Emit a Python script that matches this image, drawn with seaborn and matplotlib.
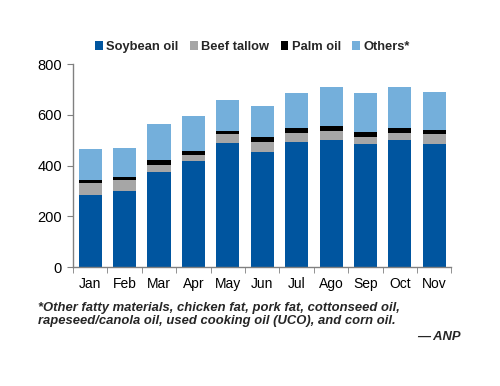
import numpy as np
import pandas as pd
import matplotlib
matplotlib.use('Agg')
import matplotlib.pyplot as plt
from matplotlib.patches import Patch
import seaborn as sns

months = ['Jan', 'Feb', 'Mar', 'Apr', 'May', 'Jun', 'Jul', 'Ago', 'Sep', 'Oct', 'Nov']
soybean = [283, 299, 373, 417, 488, 452, 493, 501, 484, 500, 485]
beef_tallow = [47, 46, 30, 24, 38, 42, 37, 37, 29, 30, 38]
palm_oil = [15, 9, 20, 16, 10, 17, 18, 18, 19, 20, 16]
others = [119, 114, 141, 137, 123, 124, 140, 153, 153, 158, 150]

series = ['Soybean oil', 'Beef tallow', 'Palm oil', 'Others*']
colors = ['#00559f', '#a6a6a6', '#000000', '#74afdb']

df = pd.DataFrame({'month': months, 'Soybean oil': soybean, 'Beef tallow': beef_tallow,
                   'Palm oil': palm_oil, 'Others*': others})
# cumulative tops, drawn from the tallest down so they stack visually
cum = df[series].cumsum(axis=1)
cum['month'] = months

sns.set_style('white')
plt.rcParams['font.family'] = ['Liberation Sans', 'DejaVu Sans']

fig = plt.figure(figsize=(5, 3.86), dpi=100)
ax = fig.add_axes([0.146, 0.308, 0.757, 0.526])

for name, col in reversed(list(zip(series, colors))):
    sns.barplot(data=cum, x='month', y=name, color=col, width=0.67,
                saturation=1, ax=ax, edgecolor='none')

ax.set_ylim(0, 800)
ax.set_xlim(-0.5, len(months) - 0.5)
ax.set_yticks(np.arange(0, 801, 200))
ax.set_xlabel('')
ax.set_ylabel('')
sns.despine(ax=ax)
for s in ['left', 'bottom']:
    ax.spines[s].set_color('#808080')
    ax.spines[s].set_linewidth(1)
ax.tick_params(axis='y', length=4, color='#808080', direction='out', labelsize=10.5,
               labelcolor='black', pad=4, left=True)
ax.tick_params(axis='x', which='major', length=0, labelsize=10, labelcolor='black', pad=7)
ax.set_xticks(np.arange(-0.5, len(months)), minor=True)
ax.tick_params(axis='x', which='minor', length=4, color='#808080', direction='out', bottom=True)

handles = [Patch(facecolor=c, edgecolor='none') for c in colors]
fig.legend(handles, series, loc='center', bbox_to_anchor=(0.505, 0.878), ncol=4, frameon=False,
           prop={'weight': 'bold', 'size': 9.3}, handlelength=0.6, handleheight=0.6,
           handletextpad=0.25, columnspacing=0.9)

fig.text(0.077, 0.186, '*Other fatty materials, chicken fat, pork fat, cottonseed oil,\n'
         'rapeseed/canola oil, used cooking oil (UCO), and corn oil.',
         fontsize=9.4, style='italic', weight='bold', va='center', ha='left', linespacing=1.15)
fig.text(0.922, 0.128, '— ANP', fontsize=9.4, style='italic', weight='bold', ha='right', va='center')

fig.savefig('out.png', dpi=100)
